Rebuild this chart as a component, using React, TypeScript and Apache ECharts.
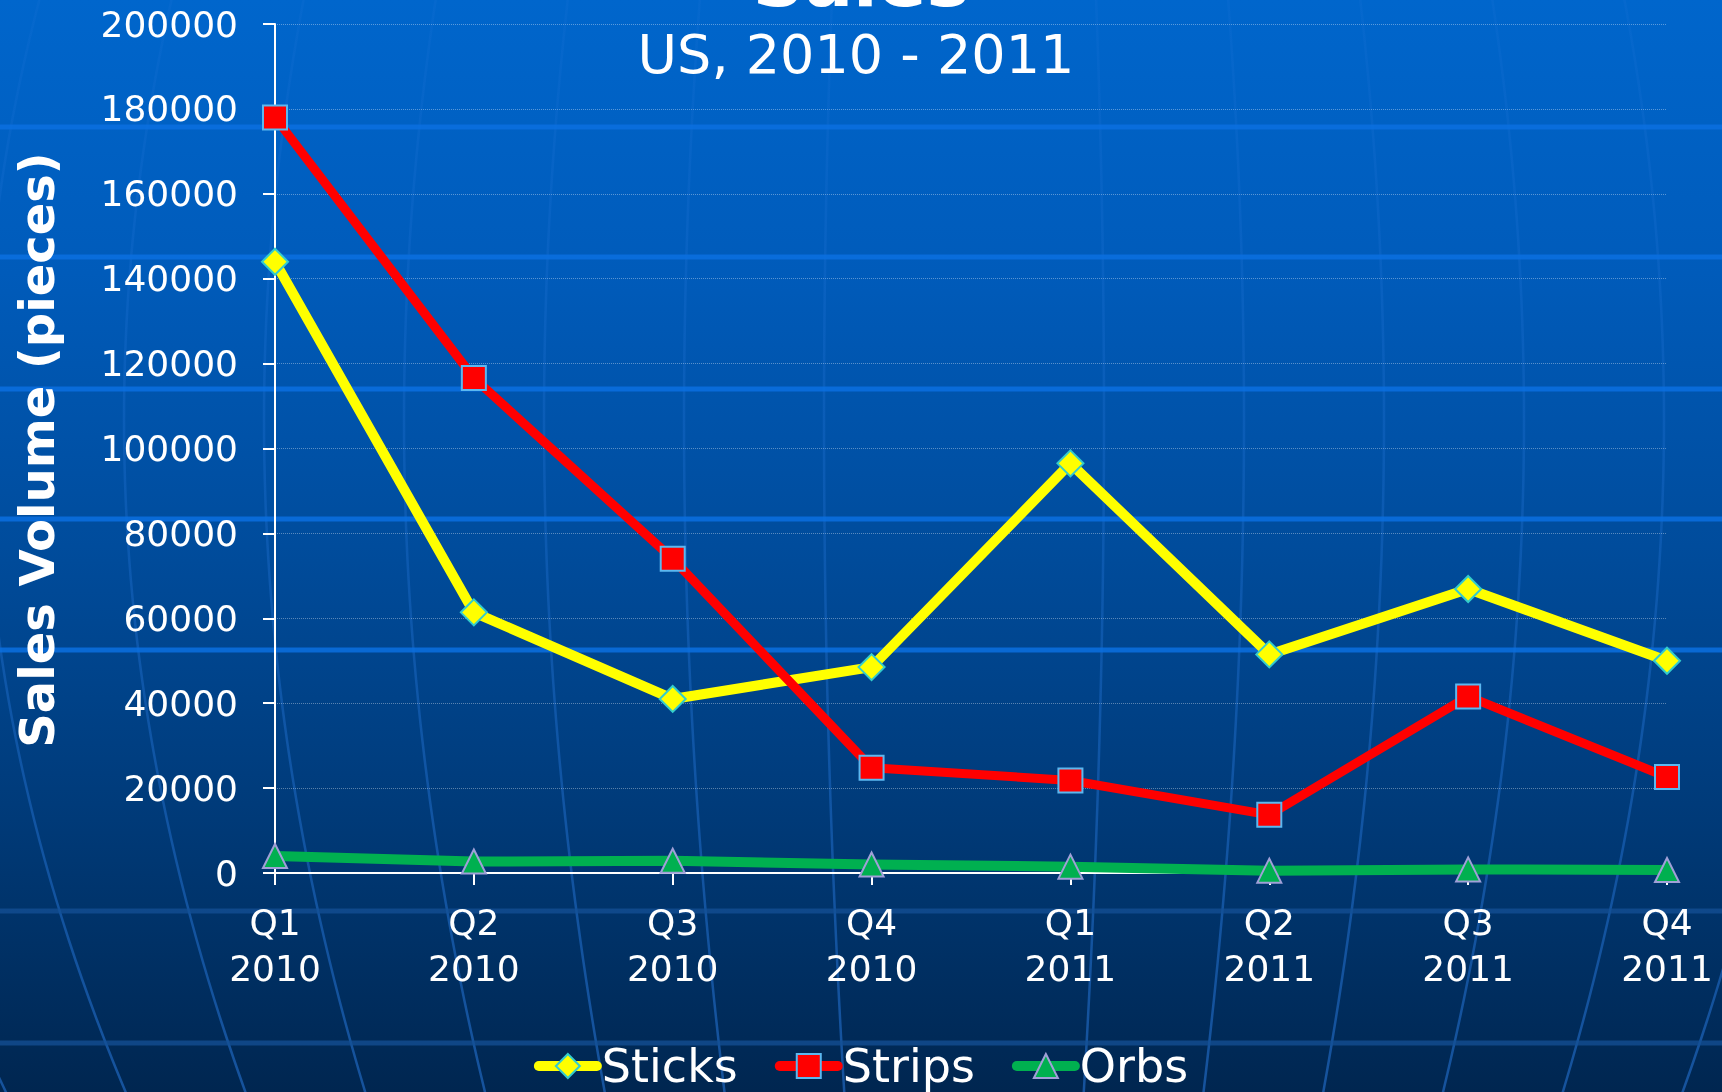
import React, { useEffect, useRef } from "react";
import * as echarts from "echarts";

const categories = ["Q1\n2010", "Q2\n2010", "Q3\n2010", "Q4\n2010", "Q1\n2011", "Q2\n2011", "Q3\n2011", "Q4\n2011"];
const seriesNames = ["Sticks", "Strips", "Orbs"];
const sticks = [144000, 61400, 41000, 48500, 96500, 51500, 66900, 50000];
const strips = [178000, 116600, 74000, 24800, 21800, 13700, 41600, 22600];
const orbs = [4000, 2700, 2900, 2000, 1500, 550, 850, 700];
const yMin = 0;
const yMax = 200000;
const yInterval = 20000;
const titleText = "Sales";
const subtitleText = "US, 2010 - 2011";
const yAxisName = "Sales Volume (pieces)";

const W = 1722;
const H = 1092;
const FONT = "DejaVu Sans";

function meridian(k: number) {
  const C = 964;
  const ye = 420;
  const e = C + 140 * k;
  const pts: number[][] = [];
  for (let y = -20; y <= H + 20; y += 40) {
    const f = 1 - 3.2e-7 * (y - ye) * (y - ye);
    pts.push([C + (e - C) * f, y]);
  }
  return pts;
}

function buildGraphics() {
  const els: any[] = [];
  els.push({
    type: "rect",
    z: -100,
    silent: true,
    shape: { x: 0, y: 0, width: W, height: H },
    style: {
      fill: new echarts.graphic.LinearGradient(0, 0, 0, 1, [
        { offset: 0, color: "#0066CC" },
        { offset: 0.25, color: "#005BBA" },
        { offset: 0.5, color: "#004C9C" },
        { offset: 0.75, color: "#003A78" },
        { offset: 1, color: "#002650" },
      ]),
    },
  });
  for (let k = -8; k <= 6; k++) {
    els.push({
      type: "polyline",
      z: -90,
      silent: true,
      shape: { points: meridian(k), smooth: 0.4 },
      style: {
        stroke: new echarts.graphic.LinearGradient(0, 0, 0, 1, [
          { offset: 0, color: "rgba(40,120,220,0.12)" },
          { offset: 0.5, color: "rgba(40,120,220,0.3)" },
          { offset: 1, color: "rgba(40,120,220,0.55)" },
        ]),
        lineWidth: 2.5,
        fill: null,
      },
    });
  }
  const upperBands = [127, 257, 389, 519, 650];
  upperBands.forEach((y) => {
    els.push({
      type: "rect",
      z: -80,
      silent: true,
      shape: { x: 0, y: y - 2.5, width: W, height: 5 },
      style: { fill: "rgba(10,112,225,0.85)" },
    });
  });
  const lowerBands = [911, 1043];
  lowerBands.forEach((y) => {
    els.push({
      type: "rect",
      z: -80,
      silent: true,
      shape: { x: 0, y: y - 2.5, width: W, height: 5 },
      style: { fill: "rgba(20,80,150,0.75)" },
    });
  });
  els.push({
    type: "text",
    z: 10,
    x: 861,
    y: -19,
    style: {
      text: titleText,
      fill: "#FFFFFF",
      font: `bold 72px "${FONT}"`,
      align: "center",
      verticalAlign: "middle",
    },
  });
  els.push({
    type: "text",
    z: 10,
    x: 856,
    y: 54,
    style: {
      text: subtitleText,
      fill: "#FFFFFF",
      font: `54px "${FONT}"`,
      align: "center",
      verticalAlign: "middle",
    },
  });
  els.push({
    type: "text",
    z: 10,
    x: 37,
    y: 450,
    rotation: Math.PI / 2,
    style: {
      text: yAxisName,
      fill: "#FFFFFF",
      font: `bold 48px "${FONT}"`,
      align: "center",
      verticalAlign: "middle",
    },
  });
  return els;
}

export default function App() {
  const ref = useRef<HTMLDivElement>(null);
  useEffect(() => {
    if (!ref.current) return;
    const chart = echarts.init(ref.current, undefined, { renderer: "svg" });
    const option: any = {
      animation: false,
      graphic: buildGraphics(),
      grid: { left: 275, right: 55, top: 24, bottom: 219, containLabel: false },
      legend: {
        data: seriesNames,
        left: "center",
        top: 1031,
        itemWidth: 58,
        itemHeight: 30,
        itemGap: 37,
        lineStyle: { width: 10, cap: "round" },
        itemStyle: { borderWidth: 2 },
        textStyle: { color: "#FFFFFF", fontSize: 46, fontFamily: FONT, lineHeight: 60 },
      },
      xAxis: {
        type: "category",
        data: categories,
        boundaryGap: false,
        axisLine: { lineStyle: { color: "#FFFFFF", width: 2 } },
        axisTick: { show: true, length: 12, alignWithLabel: true, lineStyle: { color: "#FFFFFF", width: 2 } },
        axisLabel: { color: "#FFFFFF", fontSize: 36, fontFamily: FONT, lineHeight: 46, margin: 26, interval: 0 },
        splitLine: { show: false },
      },
      yAxis: {
        type: "value",
        min: yMin,
        max: yMax,
        interval: yInterval,
        axisLine: { show: true, lineStyle: { color: "#FFFFFF", width: 2 } },
        axisTick: { show: true, length: 12, lineStyle: { color: "#FFFFFF", width: 2 } },
        axisLabel: {
          color: "#FFFFFF",
          fontSize: 36,
          fontFamily: FONT,
          margin: 37,
          formatter: (v: number) => String(v),
        },
        splitLine: { show: true, lineStyle: { color: "rgba(255,255,255,0.35)", width: 1, type: "dotted" } },
      },
      series: [
        {
          name: "Sticks",
          type: "line",
          data: sticks,
          z: 3,
          symbol: "diamond",
          symbolSize: 26,
          lineStyle: { color: "#FFFF00", width: 10, join: "round", cap: "round" },
          itemStyle: { color: "#FFFF00", borderColor: "#33CCCC", borderWidth: 2 },
        },
        {
          name: "Strips",
          type: "line",
          data: strips,
          z: 4,
          symbol: "rect",
          symbolSize: 24,
          lineStyle: { color: "#FF0000", width: 9, join: "round", cap: "round" },
          itemStyle: { color: "#FF0000", borderColor: "#5BB8F0", borderWidth: 2 },
        },
        {
          name: "Orbs",
          type: "line",
          data: orbs,
          z: 5,
          symbol: "triangle",
          symbolSize: 24,
          lineStyle: { color: "#00B050", width: 10, join: "round", cap: "round" },
          itemStyle: { color: "#00B050", borderColor: "#A0A0D8", borderWidth: 2 },
        },
      ],
    };
    chart.setOption(option);
    return () => chart.dispose();
  }, []);
  return (
    <div
      ref={ref}
      style={{ position: "fixed", left: 0, top: 0, width: W, height: H }}
    />
  );
}
